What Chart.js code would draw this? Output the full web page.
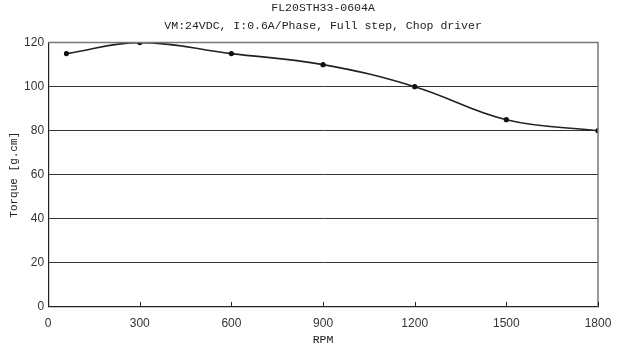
<!DOCTYPE html>
<html>
<head>
<meta charset="utf-8">
<style>
  html, body { margin: 0; padding: 0; background: #fff; }
  #wrap { width: 617px; height: 346px; }
</style>
<script src="https://cdn.jsdelivr.net/npm/chart.js@4/dist/chart.umd.min.js"></script>
</head>
<body>
<div id="wrap"><canvas id="chart"></canvas></div>
<script>
const speeds = [60, 300, 600, 900, 1200, 1500, 1800];
const torque = [115, 120, 115, 110, 100, 85, 80];
const xTicks = [0, 300, 600, 900, 1200, 1500, 1800];
const yTicks = [0, 20, 40, 60, 80, 100, 120];

const mono = "'Liberation Mono', monospace";
const sans = "'Liberation Sans', Arial, sans-serif";

// inward tick marks on the x axis plus the grey frame on top/right
const frame = {
    id: 'frame',
    afterDraw(chart) {
        const { ctx, chartArea: a, scales } = chart;
        ctx.save();
        ctx.strokeStyle = '#777';
        ctx.lineWidth = 1.5;
        ctx.beginPath();
        ctx.moveTo(a.left, a.top);
        ctx.lineTo(a.right, a.top);
        ctx.lineTo(a.right, a.bottom);
        ctx.stroke();
        ctx.strokeStyle = '#222';
        ctx.lineWidth = 1;
        ctx.beginPath();
        scales.x.ticks.forEach((t, i) => {
            const px = Math.round(scales.x.getPixelForTick(i)) + 0.5;
            ctx.moveTo(px, a.bottom);
            ctx.lineTo(px, a.bottom - 5);
        });
        ctx.stroke();
        ctx.restore();
    },
};

new Chart(document.getElementById('chart'), {
    type: 'line',
    data: {
        datasets: [
            {
                data: speeds.map((s, i) => ({ x: s, y: torque[i] })),
                borderColor: '#222',
                borderWidth: 1.6,
                tension: 0.4,
                pointRadius: 1.8,
                pointBackgroundColor: '#111',
                pointBorderColor: '#111',
                fill: false,
            },
        ],
    },
    options: {
        responsive: true,
        maintainAspectRatio: false,
        animation: false,
        layout: { padding: { top: 1, right: 19, left: 8, bottom: 0 } },
        plugins: {
            legend: { display: false },
            tooltip: { enabled: false },
            title: {
                display: true,
                fullSize: false,
                text: 'FL20STH33-0604A',
                color: '#222',
                font: { family: mono, size: 11.5, weight: 'normal', lineHeight: 1.2 },
                padding: { top: 0, bottom: 4 },
            },
            subtitle: {
                display: true,
                fullSize: false,
                text: 'VM:24VDC, I:0.6A/Phase, Full step, Chop driver',
                color: '#222',
                font: { family: mono, size: 11.5, lineHeight: 1.2 },
                padding: { top: 0, bottom: 10 },
            },
        },
        scales: {
            x: {
                type: 'linear',
                min: 0,
                max: 1800,
                afterBuildTicks: (scale) => {
                    scale.ticks = xTicks.map((v) => ({ value: v }));
                },
                ticks: {
                    color: '#333',
                    font: { family: sans, size: 12 },
                    padding: 2,
                    callback: (v) => String(v),
                },
                grid: { display: false },
                border: { color: '#222', width: 1.2 },
                title: {
                    display: true,
                    text: 'RPM',
                    color: '#222',
                    font: { family: mono, size: 11.5, lineHeight: 1.1 },
                    padding: { top: 0, bottom: 0 },
                },
            },
            y: {
                min: 0,
                max: 120,
                afterBuildTicks: (scale) => {
                    scale.ticks = yTicks.map((v) => ({ value: v }));
                },
                ticks: {
                    color: '#333',
                    font: { family: sans, size: 12 },
                    padding: 4,
                    callback: (v) => String(v),
                },
                grid: { color: '#333', lineWidth: 1, drawTicks: false },
                border: { color: '#222', width: 1.2 },
                title: {
                    display: true,
                    text: 'Torque [g.cm]',
                    color: '#222',
                    font: { family: mono, size: 11, lineHeight: 1.1 },
                    padding: { top: 0, bottom: 0 },
                },
            },
        },
    },
    plugins: [frame],
});
</script>
</body>
</html>
